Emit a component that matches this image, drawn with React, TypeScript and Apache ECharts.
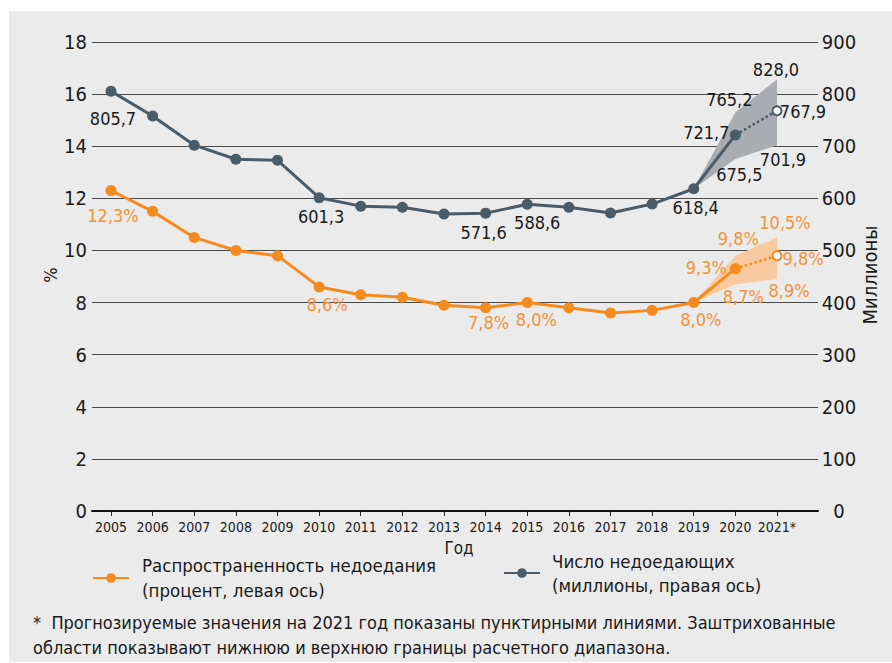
import React, { useEffect, useRef } from "react";
import * as echarts from "echarts";

// ---------- data ----------
const years = [2005, 2006, 2007, 2008, 2009, 2010, 2011, 2012, 2013, 2014, 2015, 2016, 2017, 2018, 2019, 2020, 2021];
const observedYears = years.slice(0, 16); // 2005-2020
const projectionYears = [2020, 2021];
const bandYears = [2019, 2020, 2021];

// Prevalence of undernourishment, % (left axis)
const pouPercent = [12.3, 11.5, 10.5, 10.0, 9.8, 8.6, 8.3, 8.2, 7.9, 7.8, 8.0, 7.8, 7.6, 7.7, 8.0, 9.3];
const pouProjected = [9.3, 9.8];
const pouLower = [8.0, 8.7, 8.9];
const pouUpper = [8.0, 9.8, 10.5];

// Number of undernourished, millions (right axis)
const nouMillions = [805.7, 758, 702, 675, 673, 601.3, 585, 583, 570, 571.6, 588.6, 583, 572, 589, 618.4, 721.7];
const nouProjected = [721.7, 767.9];
const nouLower = [618.4, 675.5, 701.9];
const nouUpper = [618.4, 765.2, 828.0];

const leftTicks = [0, 2, 4, 6, 8, 10, 12, 14, 16, 18];
const rightTicks = [0, 100, 200, 300, 400, 500, 600, 700, 800, 900];

const pouName = "Распространенность недоедания (процент, левая ось)";
const nouName = "Число недоедающих (миллионы, правая ось)";

// ---------- label placement (offsets from point centre, px) ----------
const pouLabelOffsets: Record<number, [number, number]> = {
  2005: [2, 25], 2010: [8, 18], 2014: [3, 15], 2015: [9, 17], 2019: [7, 17], 2020: [-29, -1],
};
const nouLabelOffsets: Record<number, [number, number]> = {
  2005: [2, 27], 2010: [2, 19], 2014: [-2, 19], 2015: [10, 18], 2019: [2, 19], 2020: [-29, -2],
};
const pouProjOffset: [number, number] = [26, 3];
const nouProjOffset: [number, number] = [26, 1];
const pouUpperOffsets: [number, number][] = [[0, 0], [3, -17], [8, -15]];
const pouLowerOffsets: [number, number][] = [[0, 0], [8, 12], [12, 11]];
const nouUpperOffsets: [number, number][] = [[0, 0], [-6, -13], [-1, -10]];
const nouLowerOffsets: [number, number][] = [[0, 0], [4, 16], [6, 14]];

// ---------- styles ----------
const FONT = "'Liberation Sans Narrow', 'DejaVu Sans Condensed', Roboto, sans-serif";
const ORANGE = "#f58a1f";
const ORANGE_TEXT = "#f4923a";
const GRAY = "#4b5c69";
const TEXT = "#1a1a1a";
const BG = "#ebebeb";

const fmt = (v: number) => v.toFixed(1).replace(".", ",");

export default function App() {
  const ref = useRef<HTMLDivElement>(null);

  useEffect(() => {
    if (!ref.current) return;
    const chart = echarts.init(ref.current, undefined, { renderer: "svg" });

    const lbl = (text: string, offset: [number, number], color: string) => ({
      show: true,
      position: "inside",
      offset,
      formatter: text,
      color,
      fontSize: 18,
      fontFamily: FONT,
    });

    const pouMain = observedYears.map((y, i) => {
      const off = pouLabelOffsets[y];
      return off
        ? { value: [y, pouPercent[i]], label: lbl(fmt(pouPercent[i]) + "%", off, ORANGE_TEXT) }
        : { value: [y, pouPercent[i]] };
    });
    const nouMain = observedYears.map((y, i) => {
      const off = nouLabelOffsets[y];
      return off
        ? { value: [y, nouMillions[i]], label: lbl(fmt(nouMillions[i]), off, TEXT) }
        : { value: [y, nouMillions[i]] };
    });

    const projData = (vals: number[], text: string, off: [number, number], color: string) =>
      projectionYears.map((y, i) =>
        i === 0
          ? { value: [y, vals[i]], symbol: "none" }
          : { value: [y, vals[i]], label: lbl(text, off, color) }
      );

    const bandLabelData = (vals: number[], offs: [number, number][], suffix: string, color: string) =>
      bandYears
        .map((y, i) => ({ value: [y, vals[i]], label: lbl(fmt(vals[i]) + suffix, offs[i], color) }))
        .slice(1);

    const bandSeries = (lower: number[], upper: number[], yAxisIndex: number, color: string) => ({
      type: "custom",
      yAxisIndex,
      silent: true,
      z: 1,
      data: bandYears.map((y, i) => [y, lower[i], upper[i]]),
      encode: { x: 0, y: [1, 2] },
      renderItem: (params: any, api: any) => {
        if (params.dataIndex !== 0) return null;
        const top = bandYears.map((y, i) => api.coord([y, upper[i]]));
        const bottom = bandYears.map((y, i) => api.coord([y, lower[i]])).reverse();
        return {
          type: "polygon",
          shape: { points: [...top, ...bottom] },
          style: { fill: color },
        };
      },
    });

    const labelScatter = (data: any[], yAxisIndex: number) => ({
      type: "scatter",
      yAxisIndex,
      data,
      symbolSize: 1,
      itemStyle: { color: "rgba(0,0,0,0)", opacity: 1 },
      silent: true,
      z: 5,
    });

    const option: any = {
      animation: false,
      backgroundColor: "#ffffff",
      textStyle: { fontFamily: FONT },
      grid: { left: 92, right: 74, top: 42, bottom: 152, containLabel: false },
      xAxis: {
        type: "value",
        min: 2004.5436,
        max: 2021.985,
        axisLine: { show: true, lineStyle: { color: "#111", width: 2 } },
        axisTick: { show: true, customValues: years, length: 5, lineStyle: { color: "#222", width: 1 } },
        axisLabel: {
          customValues: years,
          formatter: (v: number) => (v === 2021 ? "2021*" : String(v)),
          fontSize: 14,
          color: TEXT,
          fontFamily: FONT,
          margin: 9,
        },
        splitLine: { show: false },
      },
      yAxis: [
        {
          type: "value",
          min: leftTicks[0],
          max: leftTicks[leftTicks.length - 1],
          interval: 2,
          axisLine: { show: false },
          axisTick: { show: false },
          axisLabel: { fontSize: 20, color: TEXT, fontFamily: FONT, margin: 5 },
          splitLine: { show: true, lineStyle: { color: "#4a4a4a", width: 1 } },
        },
        {
          type: "value",
          min: rightTicks[0],
          max: rightTicks[rightTicks.length - 1],
          interval: 100,
          position: "right",
          axisLine: { show: false },
          axisTick: { show: false },
          axisLabel: { fontSize: 20, color: TEXT, fontFamily: FONT, margin: 21, align: "center" },
          splitLine: { show: false },
        },
      ],
      legend: [
        {
          data: [pouName],
          left: 92,
          top: 553,
          padding: 0,
          itemWidth: 36,
          itemHeight: 12,
          formatter: () => "Распространенность недоедания\n(процент, левая ось)",
          textStyle: { fontSize: 18.5, lineHeight: 25, color: TEXT, fontFamily: FONT, padding: [0, 0, 0, 8] },
          selectedMode: false,
        },
        {
          data: [nouName],
          left: 503,
          top: 549,
          padding: 0,
          itemWidth: 36,
          itemHeight: 12,
          formatter: () => "Число недоедающих\n(миллионы, правая ось)",
          textStyle: { fontSize: 18.5, lineHeight: 24, color: TEXT, fontFamily: FONT, padding: [0, 0, 0, 7] },
          selectedMode: false,
        },
      ],
      series: [
        bandSeries(nouLower, nouUpper, 1, "#a9acb1"),
        bandSeries(pouLower, pouUpper, 0, "#f9c9a0"),
        {
          type: "line",
          name: nouName,
          yAxisIndex: 1,
          data: nouMain,
          symbol: "circle",
          symbolSize: 11,
          itemStyle: { color: GRAY },
          lineStyle: { color: GRAY, width: 3 },
          z: 3,
        },
        {
          type: "line",
          name: "nou-proj",
          yAxisIndex: 1,
          data: projData(nouProjected, fmt(nouProjected[1]), nouProjOffset, TEXT),
          symbol: "circle",
          symbolSize: 9,
          itemStyle: { color: "#ffffff", borderColor: GRAY, borderWidth: 2 },
          lineStyle: { color: GRAY, width: 2.5, type: "dotted" },
          z: 2,
        },
        {
          type: "line",
          name: pouName,
          yAxisIndex: 0,
          data: pouMain,
          symbol: "circle",
          symbolSize: 11,
          itemStyle: { color: ORANGE },
          lineStyle: { color: ORANGE, width: 3 },
          z: 3,
        },
        {
          type: "line",
          name: "pou-proj",
          yAxisIndex: 0,
          data: projData(pouProjected, fmt(pouProjected[1]) + "%", pouProjOffset, ORANGE_TEXT),
          symbol: "circle",
          symbolSize: 9,
          itemStyle: { color: "#ffffff", borderColor: ORANGE, borderWidth: 2 },
          lineStyle: { color: ORANGE, width: 2.5, type: "dotted" },
          z: 2,
        },
        labelScatter(bandLabelData(nouUpper, nouUpperOffsets, "", TEXT), 1),
        labelScatter(bandLabelData(nouLower, nouLowerOffsets, "", TEXT), 1),
        labelScatter(bandLabelData(pouUpper, pouUpperOffsets, "%", ORANGE_TEXT), 0),
        labelScatter(bandLabelData(pouLower, pouLowerOffsets, "%", ORANGE_TEXT), 0),
      ],
      graphic: [
        {
          type: "rect",
          z: -10,
          silent: true,
          shape: { x: 9, y: 11, width: 883, height: 651 },
          style: { fill: BG },
        },
        {
          type: "text",
          x: 459,
          y: 548,
          style: { text: "Год", font: `17px ${FONT}`, fill: TEXT, align: "center", verticalAlign: "middle" },
        },
        {
          type: "text",
          x: 50,
          y: 275,
          rotation: Math.PI / 2,
          style: { text: "%", font: `18px ${FONT}`, fill: TEXT, align: "center", verticalAlign: "middle" },
        },
        {
          type: "text",
          x: 870,
          y: 275,
          rotation: Math.PI / 2,
          style: { text: "Миллионы", font: `20px ${FONT}`, fill: TEXT, align: "center", verticalAlign: "middle" },
        },
        {
          type: "text",
          x: 33,
          y: 622,
          style: {
            text: "*  Прогнозируемые значения на 2021 год показаны пунктирными линиями. Заштрихованные",
            font: `18px ${FONT}`,
            fill: TEXT,
            align: "left",
            verticalAlign: "middle",
          },
        },
        {
          type: "text",
          x: 33,
          y: 647,
          style: {
            text: "области показывают нижнюю и верхнюю границы расчетного диапазона.",
            font: `18px ${FONT}`,
            fill: TEXT,
            align: "left",
            verticalAlign: "middle",
          },
        },
      ],
    };

    chart.setOption(option);
    return () => chart.dispose();
  }, []);

  return (
    <div
      ref={ref}
      style={{ position: "fixed", left: 0, top: 0, width: 892, height: 663 }}
    />
  );
}
